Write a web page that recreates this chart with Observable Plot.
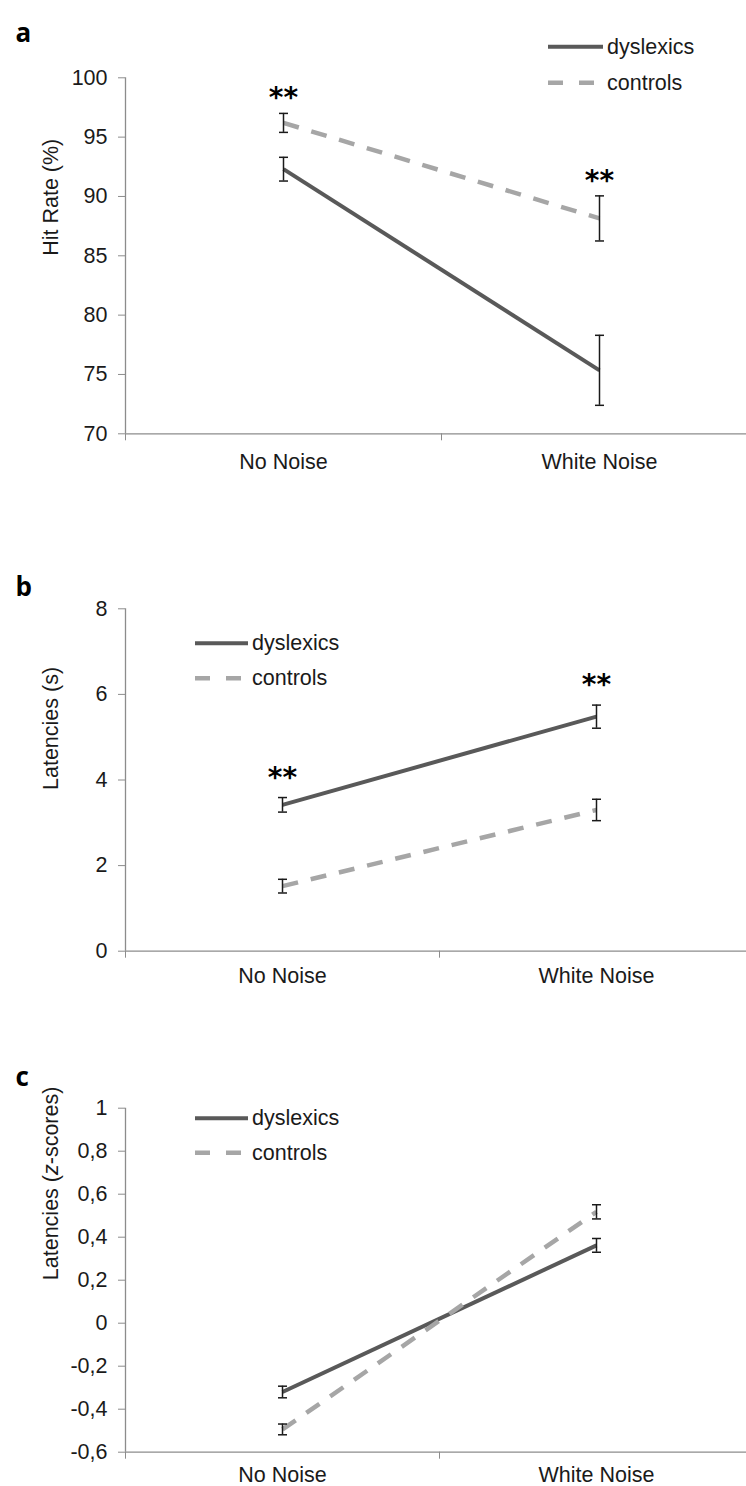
<!DOCTYPE html>
<html><head><meta charset="utf-8">
<script src="https://cdn.jsdelivr.net/npm/d3@7"></script>
<script src="https://cdn.jsdelivr.net/npm/@observablehq/plot@0.6"></script>
<style>
body{margin:0;background:#fff}
#chart{position:relative;width:746px;height:1486px;overflow:hidden;background:#fff}
.panel{position:absolute;left:0;width:746px}
.panel svg{display:block}
.legend{position:absolute;left:0;top:0;pointer-events:none}
</style></head><body><div id="chart"></div>
<script>
// ---- data ----
const conditions = ["No Noise", "White Noise"];
const groups = ["dyslexics", "controls"];

// panel a: hit rate (%)
const hitDyslexics = [92.3, 75.35];
const hitDyslexicsErr = [1.0, 2.95];
const hitControls = [96.2, 88.15];
const hitControlsErr = [0.8, 1.9];
const hitTicks = [70, 75, 80, 85, 90, 95, 100];
const hitStars = ["**", "**"];

// panel b: latencies (s)
const latDyslexics = [3.42, 5.48];
const latDyslexicsErr = [0.17, 0.27];
const latControls = [1.52, 3.3];
const latControlsErr = [0.16, 0.25];
const latTicks = [0, 2, 4, 6, 8];
const latStars = ["**", "**"];

// panel c: latencies (z-scores)
const zDyslexics = [-0.32, 0.362];
const zDyslexicsErr = [0.027, 0.032];
const zControls = [-0.494, 0.518];
const zControlsErr = [0.025, 0.033];
const zTicks = [-0.6, -0.4, -0.2, 0, 0.2, 0.4, 0.6, 0.8, 1];
const zStars = ["", ""];

const panelLetters = ["a", "b", "c"];
const yLabels = ["Hit Rate (%)", "Latencies (s)", "Latencies (z-scores)"];

// ---- styles / layout ----
const groupStyle = {
  dyslexics: {stroke: "#595959", width: 4, dash: null, legendDash: null},
  controls: {stroke: "#a6a6a6", width: 4.5, dash: "16,13", legendDash: "15,16"}
};
const axisColor = "#8c8c8c";
const textColor = "#1a1a1a";
const fontMain = "'Liberation Sans', Arial, sans-serif";

const panels = [
  {letter: panelLetters[0], label: yLabels[0], dys: hitDyslexics, dysErr: hitDyslexicsErr, con: hitControls, conErr: hitControlsErr,
   ticks: hitTicks, stars: hitStars, fmt: d => String(d),
   top: 0, height: 500, yPx: [433.3, 77.3], xRange: [125, 757], xPad: 20, starDy: -15, labelDy: 0,
   letterDy: -54, legend: {x0: 548, x1: 603, tx: 607, ys: [46.7, 82.7]}},
  {letter: panelLetters[1], label: yLabels[1], dys: latDyslexics, dysErr: latDyslexicsErr, con: latControls, conErr: latControlsErr,
   ticks: latTicks, stars: latStars, fmt: d => String(d),
   top: 500, height: 500, yPx: [450.7, 108.3], xRange: [125, 753], xPad: 17, starDy: -20, labelDy: 10,
   letterDy: -31, legend: {x0: 195, x1: 248, tx: 252, ys: [143.3, 178.3]}},
  {letter: panelLetters[2], label: yLabels[2], dys: zDyslexics, dysErr: zDyslexicsErr, con: zControls, conErr: zControlsErr,
   ticks: zTicks, stars: zStars, fmt: d => String(d).replace(".", ","),
   top: 1000, height: 486, yPx: [451.7, 107.7], xRange: [125, 753], xPad: 15, starDy: -18, labelDy: 0,
   letterDy: -41, legend: {x0: 195, x1: 248, tx: 252, ys: [118.3, 152.7]}}
];

const capSymbol = {
  draw(context, size) {
    const w = Math.sqrt(size / Math.PI);
    context.moveTo(-w, 0);
    context.lineTo(w, 0);
  }
};

const chart = document.getElementById("chart");

panels.forEach(p => {
  const rows = [];
  conditions.forEach((c, i) => {
    rows.push({cond: c, xi: i + 0.5, group: "dyslexics", mean: p.dys[i], err: p.dysErr[i]});
    rows.push({cond: c, xi: i + 0.5, group: "controls", mean: p.con[i], err: p.conErr[i]});
  });
  const starRows = conditions.map((c, i) => ({
    xi: i + 0.5, star: p.stars[i],
    top: d3.max(rows.filter(r => r.cond === c), r => r.mean + r.err)
  })).filter(d => d.star);

  const yDomain = [p.ticks[0], p.ticks[p.ticks.length - 1]];
  const marks = [
    Plot.ruleY([yDomain[0]], {stroke: axisColor, strokeWidth: 1.3}),
    Plot.ruleX([0], {stroke: axisColor, strokeWidth: 1.3}),
    Plot.axisY({ticks: p.ticks, tickSize: 7, tickPadding: 11, tickFormat: p.fmt, stroke: axisColor, fill: textColor, label: null}),
    Plot.axisX({ticks: [0, 1, 2], tickSize: 7, tickFormat: () => "", stroke: axisColor, label: null}),
    Plot.axisX({ticks: conditions.map((c, i) => i + 0.5), tickSize: 0, tickPadding: p.xPad,
      tickFormat: v => conditions[Math.round(v - 0.5)], fill: textColor, label: null}),
  ];
  groups.forEach(g => {
    const s = groupStyle[g];
    marks.push(Plot.line(rows.filter(r => r.group === g), {
      x: "xi", y: "mean", stroke: s.stroke, strokeWidth: s.width,
      strokeDasharray: s.dash || undefined, strokeLinecap: "butt"
    }));
  });
  marks.push(
    Plot.ruleX(rows, {x: "xi", y1: d => d.mean - d.err, y2: d => d.mean + d.err, stroke: textColor, strokeWidth: 1.5}),
    Plot.dot(rows, {x: "xi", y: d => d.mean - d.err, symbol: capSymbol, r: 4.5, stroke: textColor, strokeWidth: 1.5, fill: "none"}),
    Plot.dot(rows, {x: "xi", y: d => d.mean + d.err, symbol: capSymbol, r: 4.5, stroke: textColor, strokeWidth: 1.5, fill: "none"}),
    Plot.text(starRows, {x: "xi", y: "top", text: "star", dy: p.starDy, fontSize: 28, fontWeight: "bold",
      fontFamily: "'DejaVu Sans', sans-serif", fill: "#000"}),
    Plot.text([p.letter], {text: d => d, frameAnchor: "top-left", dx: -110, dy: p.letterDy, textAnchor: "start",
      fontSize: 26, fontWeight: 700, fontFamily: "'Open Sans', sans-serif", fill: "#000"}),
    Plot.text([p.label], {text: d => d, frameAnchor: "left", dx: -74, dy: p.labelDy, rotate: -90,
      fontSize: 21.5, fill: textColor})
  );

  const svg = Plot.plot({
    width: 746, height: p.height,
    marginLeft: 125, marginRight: 0, marginTop: p.yPx[1], marginBottom: p.height - p.yPx[0],
    x: {type: "linear", domain: [0, 2], range: p.xRange},
    y: {type: "linear", domain: yDomain, range: p.yPx},
    style: {fontFamily: fontMain, fontSize: "21.5px", color: textColor, background: "#fff"},
    marks
  });

  // italic "z" in the z-score label
  d3.select(svg).selectAll("text").each(function() {
    if (this.textContent === "Latencies (z-scores)") {
      const t = d3.select(this);
      t.text(null);
      t.append("tspan").text("Latencies (");
      t.append("tspan").attr("font-style", "italic").text("z");
      t.append("tspan").text("-scores)");
    }
  });

  const div = document.createElement("div");
  div.className = "panel";
  div.style.top = p.top + "px";
  div.style.height = p.height + "px";
  div.appendChild(svg);

  // legend
  const L = p.legend;
  const leg = d3.create("svg").attr("class", "legend").attr("width", 746).attr("height", p.height);
  groups.forEach((g, i) => {
    const s = groupStyle[g];
    leg.append("line").attr("x1", L.x0).attr("x2", L.x1).attr("y1", L.ys[i]).attr("y2", L.ys[i])
      .attr("stroke", s.stroke).attr("stroke-width", s.width)
      .attr("stroke-dasharray", s.legendDash);
    leg.append("text").attr("x", L.tx).attr("y", L.ys[i]).attr("dy", "0.33em")
      .attr("font-family", fontMain).attr("font-size", 21.5).attr("fill", textColor).text(g);
  });
  div.appendChild(leg.node());
  chart.appendChild(div);
});
</script></body></html>
